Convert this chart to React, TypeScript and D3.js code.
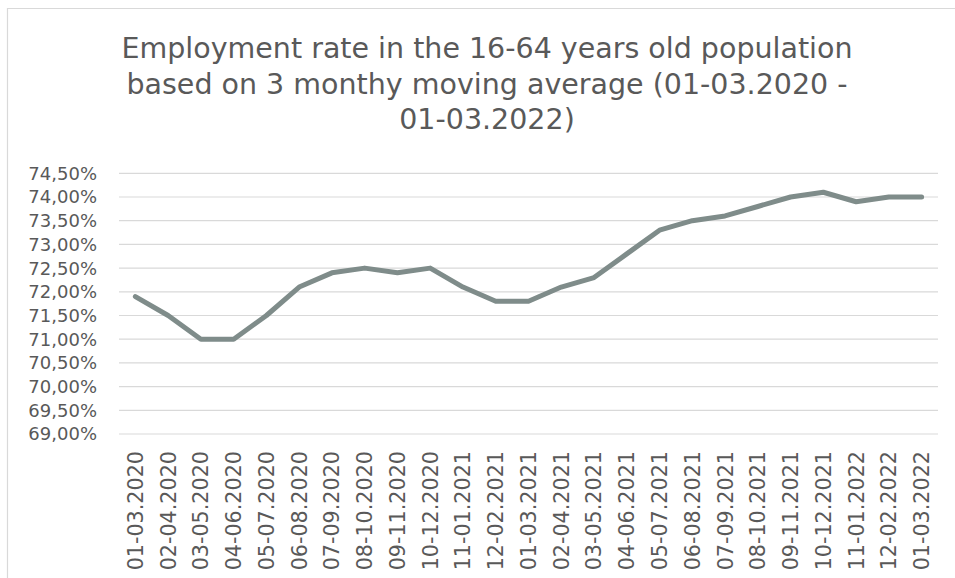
import React from "react";
import * as d3 from "d3";

const categories = [
  "01-03.2020", "02-04.2020", "03-05.2020", "04-06.2020", "05-07.2020",
  "06-08.2020", "07-09.2020", "08-10.2020", "09-11.2020", "10-12.2020",
  "11-01.2021", "12-02.2021", "01-03.2021", "02-04.2021", "03-05.2021",
  "04-06.2021", "05-07.2021", "06-08.2021", "07-09.2021", "08-10.2021",
  "09-11.2021", "10-12.2021", "11-01.2022", "12-02.2022", "01-03.2022",
];
const values = [
  71.9, 71.5, 71.0, 71.0, 71.5, 72.1, 72.4, 72.5, 72.4, 72.5,
  72.1, 71.8, 71.8, 72.1, 72.3, 72.8, 73.3, 73.5, 73.6, 73.8,
  74.0, 74.1, 73.9, 74.0, 74.0,
];
const yTicks = [69, 69.5, 70, 70.5, 71, 71.5, 72, 72.5, 73, 73.5, 74, 74.5];
const titleLines = [
  "Employment rate in the 16-64 years old population",
  "based on 3 monthy moving average (01-03.2020 -",
  "01-03.2022)",
];

const W = 955;
const H = 578;
const FONT = "'DejaVu Sans', Verdana, sans-serif";
const TEXT = "#595959";

export default function App() {
  const x = d3.scaleBand<string>().domain(categories).range([119, 938]).padding(0);
  const y = d3.scaleLinear().domain([69, 74.5]).range([434, 173.3]);
  const cx = (c: string) => (x(c) as number) + x.bandwidth() / 2;
  const line = d3
    .line<number>()
    .x((_, i) => cx(categories[i]))
    .y((v) => y(v));
  const fmt = (v: number) => v.toFixed(2).replace(".", ",") + "%";

  return (
    <svg
      width={W}
      height={H}
      style={{ position: "fixed", left: 0, top: 0, background: "#fff" }}
      fontFamily={FONT}
    >
      <rect x={0} y={0} width={W} height={H} fill="#fff" />
      <path d={`M7.5,${H} V8.5 H${W}`} fill="none" stroke="#d9d9d9" strokeWidth={1.2} />
      {titleLines.map((t, i) => (
        <text key={i} x={487} y={58 + i * 35.5} textAnchor="middle" fontSize={28.5} fill={TEXT}>
          {t}
        </text>
      ))}
      {yTicks.map((t) => (
        <g key={t}>
          <line x1={119} x2={938} y1={y(t)} y2={y(t)} stroke="#d9d9d9" strokeWidth={1.2} />
          <text x={97} y={y(t)} dy="0.36em" textAnchor="end" fontSize={18} fill={TEXT}>
            {fmt(t)}
          </text>
        </g>
      ))}
      {categories.map((c) => (
        <text
          key={c}
          transform={`translate(${cx(c)},451) rotate(-90)`}
          dy="0.36em"
          textAnchor="end"
          fontSize={20.7}
          fill={TEXT}
        >
          {c}
        </text>
      ))}
      <path
        d={line(values) || ""}
        fill="none"
        stroke="#7f8c8a"
        strokeWidth={5}
        strokeLinejoin="round"
        strokeLinecap="round"
      />
    </svg>
  );
}
